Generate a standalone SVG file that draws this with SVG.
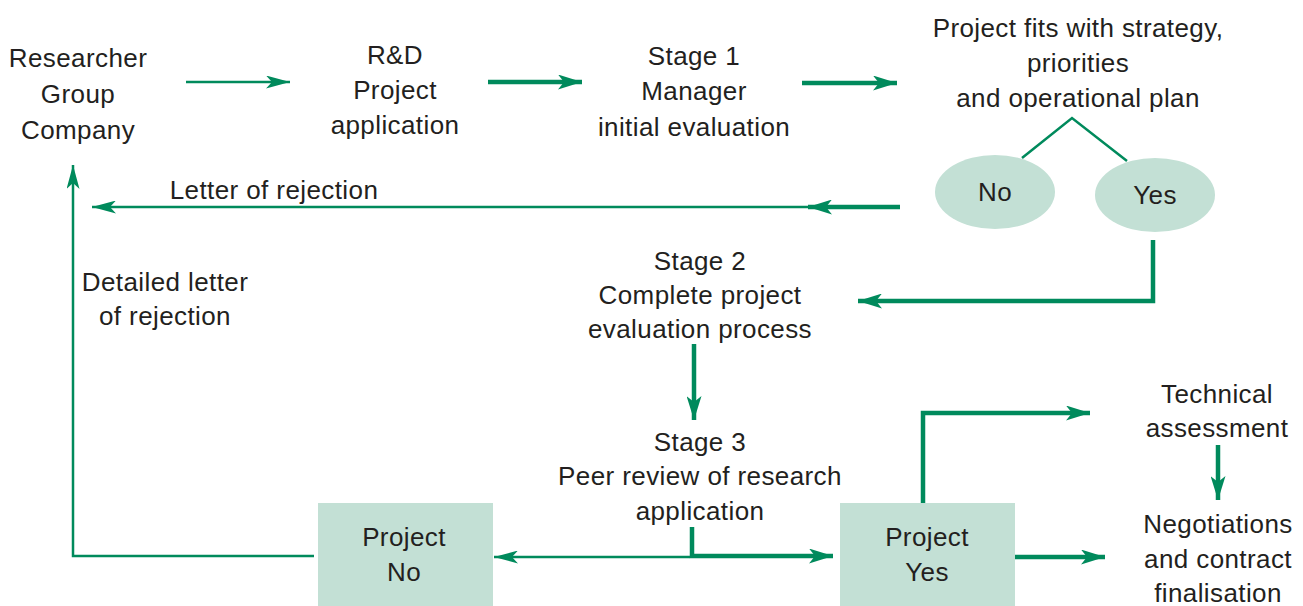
<svg xmlns="http://www.w3.org/2000/svg" width="1303" height="606" viewBox="0 0 1303 606">
<style>
text{font-family:"Liberation Sans",Arial,sans-serif;font-size:26px;letter-spacing:0.4px;fill:#231f20;text-anchor:middle}
.thin{fill:none;stroke:#008a5c;stroke-width:2.5}
.thick{fill:none;stroke:#008a5c;stroke-width:4.5}
.fill{fill:#c3e0d5}
</style>
<defs>
<marker id="ah" viewBox="0 0 24 13" refX="24" refY="6.5" markerWidth="24" markerHeight="13" markerUnits="userSpaceOnUse" orient="auto">
<path d="M0,0 L24,6.5 L0,13 L6,6.5 Z" fill="#008a5c"/>
</marker>
<marker id="ahb" viewBox="0 0 24 15" refX="24" refY="7.5" markerWidth="24" markerHeight="15" markerUnits="userSpaceOnUse" orient="auto">
<path d="M0,0 L24,7.5 L0,15 L6,7.5 Z" fill="#008a5c"/>
</marker>
</defs>
<g id="connectors">
<line class="thin" x1="186" y1="82" x2="290" y2="82" marker-end="url(#ah)"/>
<line class="thick" x1="488" y1="82" x2="582" y2="82" marker-end="url(#ahb)"/>
<line class="thick" x1="802" y1="83" x2="897" y2="83" marker-end="url(#ahb)"/>
<polyline class="thin" points="1022,158 1072,118 1127,161"/>
<line class="thick" x1="900" y1="207" x2="808" y2="207" marker-end="url(#ahb)"/>
<line class="thin" x1="812" y1="207" x2="92" y2="207" marker-end="url(#ah)"/>
<polyline class="thick" points="1153,240 1153,301 858,301" marker-end="url(#ahb)"/>
<line class="thick" x1="694" y1="344" x2="694" y2="420" marker-end="url(#ahb)"/>
<polyline class="thick" points="692,527 692,556 833,556" marker-end="url(#ahb)"/>
<line class="thin" x1="690" y1="557" x2="494" y2="557" marker-end="url(#ah)"/>
<polyline class="thin" points="314,556 73,556 73,165" marker-end="url(#ah)"/>
<polyline class="thick" points="923,503 923,413 1090,413" marker-end="url(#ahb)"/>
<line class="thick" x1="1015" y1="557" x2="1105" y2="557" marker-end="url(#ahb)"/>
<line class="thick" x1="1218" y1="445" x2="1218" y2="500" marker-end="url(#ahb)"/>
</g>
<g id="researcher">
<text x="78" y="67">Researcher</text>
<text x="78" y="103">Group</text>
<text x="78" y="139">Company</text>
</g>
<g id="application">
<text x="395" y="64">R&amp;D</text>
<text x="395" y="99">Project</text>
<text x="395" y="134">application</text>
</g>
<g id="stage1">
<text x="694" y="65">Stage 1</text>
<text x="694" y="100">Manager</text>
<text x="694" y="136">initial evaluation</text>
</g>
<g id="fits">
<text x="1078" y="37">Project fits with strategy,</text>
<text x="1078" y="72">priorities</text>
<text x="1078" y="107">and operational plan</text>
</g>
<g id="no">
<ellipse class="fill" cx="995" cy="192" rx="60" ry="37"/>
<text x="995" y="201">No</text>
</g>
<g id="yes">
<ellipse class="fill" cx="1155" cy="195" rx="60" ry="37"/>
<text x="1155" y="204">Yes</text>
</g>
<g id="letter">
<text x="274" y="199">Letter of rejection</text>
</g>
<g id="detailed">
<text x="165" y="291">Detailed letter</text>
<text x="165" y="325">of rejection</text>
</g>
<g id="stage2">
<text x="700" y="270">Stage 2</text>
<text x="700" y="304">Complete project</text>
<text x="700" y="338">evaluation process</text>
</g>
<g id="stage3">
<text x="700" y="451">Stage 3</text>
<text x="700" y="485">Peer review of research</text>
<text x="700" y="520">application</text>
</g>
<g id="projectno">
<rect class="fill" x="318" y="503" width="175" height="103"/>
<text x="404" y="546">Project</text>
<text x="404" y="581">No</text>
</g>
<g id="projectyes">
<rect class="fill" x="840" y="503" width="175" height="103"/>
<text x="927" y="546">Project</text>
<text x="927" y="581">Yes</text>
</g>
<g id="technical">
<text x="1217" y="403">Technical</text>
<text x="1217" y="437">assessment</text>
</g>
<g id="negotiations">
<text x="1218" y="533">Negotiations</text>
<text x="1218" y="568">and contract</text>
<text x="1218" y="602">finalisation</text>
</g>
</svg>
